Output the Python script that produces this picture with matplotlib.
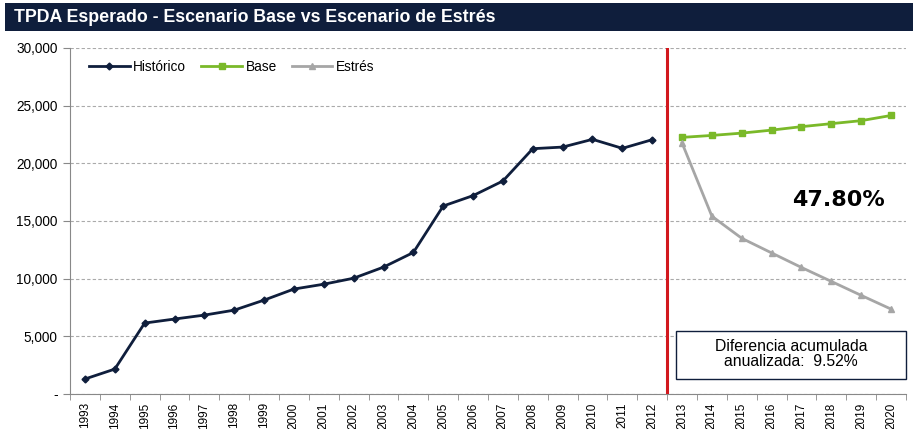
import matplotlib
matplotlib.use("Agg")
import matplotlib.pyplot as plt
from matplotlib.patches import Rectangle
import numpy as np

plt.rcParams['font.family'] = ['Liberation Sans', 'DejaVu Sans']

years = [str(y) for y in range(1993, 2021)]
hist_years = years[:20]
proj_years = years[20:]
historico = [1300, 2160, 6150, 6500, 6840, 7270, 8140, 9100, 9520, 10040,
             11000, 12270, 16300, 17200, 18470, 21270, 21410, 22080, 21300, 22050]
base = [22250, 22420, 22620, 22880, 23180, 23440, 23700, 24150]
estres = [21760, 15410, 13500, 12230, 10970, 9760, 8550, 7360]
yticks = [0, 5000, 10000, 15000, 20000, 25000, 30000]
ytick_labels = ['-', '5,000', '10,000', '15,000', '20,000', '25,000', '30,000']

fig = plt.figure(figsize=(9.15, 4.29), dpi=100)
# title bar
fig.patches.append(Rectangle((5/915, 1-31/429), 908/915, 28/429, transform=fig.transFigure,
                             facecolor='#0f1e3c', edgecolor='none', zorder=0))
fig.text(14/915, 1-17/429, 'TPDA Esperado - Escenario Base vs Escenario de Estrés',
         color='white', fontsize=12.8, fontweight='bold', va='center', ha='left')

ax = fig.add_axes([70/915, 1-394/429, 836/915, 346/429])
xh = np.arange(len(hist_years))
xp = np.arange(len(hist_years), len(years))
ax.plot(xh, historico, color='#0f1e3c', lw=2, marker='D', ms=3.5, label='Histórico', zorder=3)
ax.plot(xp, base, color='#7ab929', lw=2, marker='s', ms=4, label='Base', zorder=3)
ax.plot(xp, estres, color='#a6a6a6', lw=2, marker='^', ms=4, label='Estrés', zorder=3)

ax.axvline(19.5, color='#d2181e', lw=2.2, zorder=4)

ax.set_xlim(-0.5, len(years) - 0.5)
ax.set_ylim(0, 30000)
ax.set_yticks(yticks)
ax.set_yticklabels(ytick_labels, fontsize=9.8)
ax.set_xticks(np.arange(len(years)))
ax.set_xticklabels(years, rotation=90, fontsize=8.5)
ax.set_xticks(np.arange(len(years) + 1) - 0.5, minor=True)
ax.tick_params(axis='x', which='major', length=0, pad=6)
ax.tick_params(axis='x', which='minor', length=4, color='#888888')
ax.tick_params(axis='y', length=5, color='#888888', pad=4)
ax.grid(axis='y', linestyle=(0, (3, 2)), color='#aaaaaa', lw=0.8)
ax.set_axisbelow(True)
for s in ['top', 'right']:
    ax.spines[s].set_visible(False)
for s in ['left', 'bottom']:
    ax.spines[s].set_color('#888888')

ax.legend(loc='upper left', ncol=3, frameon=False, fontsize=9.8, bbox_to_anchor=(0.008, 1.0),
          handlelength=3, columnspacing=1.1, handletextpad=0.25)

fig.text(838/915, 1-200/429, '47.80%', fontsize=16, fontweight='bold', ha='center',
         va='center', family=['DejaVu Sans'])
fig.patches.append(Rectangle((676/915, 1-379/429), 230/915, 48/429, transform=fig.transFigure,
                             facecolor='white', edgecolor='#0f1e3c', lw=1, zorder=5))
fig.text(791/915, 1-354/429, 'Diferencia acumulada\nanualizada:  9.52%', ha='center', va='center',
         fontsize=11.3, linespacing=1.05, zorder=6)

fig.savefig('out.png', dpi=100)
